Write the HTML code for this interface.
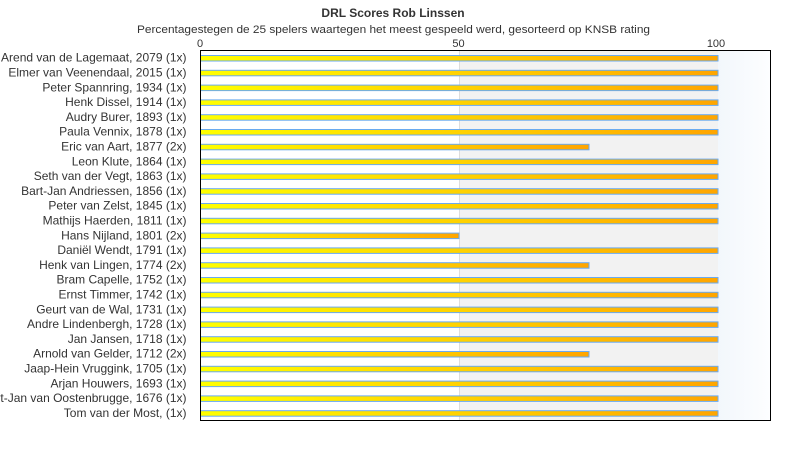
<!DOCTYPE html>
<html>
<head>
<meta charset="utf-8">
<style>
html,body{margin:0;padding:0;background:#fff;}
svg{display:block;}
text{font-family:"Liberation Sans",Arial,sans-serif;fill:#333;}
</style>
</head>
<body>
<svg width="790" height="450" viewBox="0 0 790 450" xmlns="http://www.w3.org/2000/svg">
<defs>
<linearGradient id="bar" x1="0" y1="0" x2="1" y2="0">
<stop offset="0" stop-color="#ffff00"/>
<stop offset="1" stop-color="#ffa500"/>
</linearGradient>
<linearGradient id="right" x1="0" y1="0" x2="1" y2="0">
<stop offset="0" stop-color="#f2f7fc"/>
<stop offset="1" stop-color="#fdfeff"/>
</linearGradient>
</defs>
<text x="393" y="17" text-anchor="middle" font-size="12" font-weight="bold" fill="#333">DRL Scores Rob Linssen</text>
<text x="393.5" y="33" text-anchor="middle" font-size="11" textLength="513" lengthAdjust="spacingAndGlyphs">Percentagestegen de 25 spelers waartegen het meest gespeeld werd, gesorteerd op KNSB rating</text>
<text x="200" y="47" text-anchor="middle" font-size="11">0</text>
<text x="458.5" y="47" text-anchor="middle" font-size="11">50</text>
<text x="716" y="47" text-anchor="middle" font-size="11">100</text>
<rect x="200" y="50" width="259" height="370" fill="#ffffff"/>
<rect x="459" y="50" width="259" height="370" fill="#f2f2f2"/>
<rect x="718" y="50" width="52" height="370" fill="url(#right)"/>
<line x1="459.5" y1="50" x2="459.5" y2="420" stroke="#dddddd" stroke-width="1"/>
<g font-size="12" text-anchor="end">
<text x="186.5" y="61.7">Arend van de Lagemaat, 2079 (1x)</text>
<text x="186.5" y="76.5">Elmer van Veenendaal, 2015 (1x)</text>
<text x="186.5" y="91.3">Peter Spannring, 1934 (1x)</text>
<text x="186.5" y="106.1">Henk Dissel, 1914 (1x)</text>
<text x="186.5" y="120.9">Audry Burer, 1893 (1x)</text>
<text x="186.5" y="135.7">Paula Vennix, 1878 (1x)</text>
<text x="186.5" y="150.5">Eric van Aart, 1877 (2x)</text>
<text x="186.5" y="165.3">Leon Klute, 1864 (1x)</text>
<text x="186.5" y="180.1">Seth van der Vegt, 1863 (1x)</text>
<text x="186.5" y="194.9">Bart-Jan Andriessen, 1856 (1x)</text>
<text x="186.5" y="209.7">Peter van Zelst, 1845 (1x)</text>
<text x="186.5" y="224.5">Mathijs Haerden, 1811 (1x)</text>
<text x="186.5" y="239.3">Hans Nijland, 1801 (2x)</text>
<text x="186.5" y="254.1">Daniël Wendt, 1791 (1x)</text>
<text x="186.5" y="268.9">Henk van Lingen, 1774 (2x)</text>
<text x="186.5" y="283.7">Bram Capelle, 1752 (1x)</text>
<text x="186.5" y="298.5">Ernst Timmer, 1742 (1x)</text>
<text x="186.5" y="313.3">Geurt van de Wal, 1731 (1x)</text>
<text x="186.5" y="328.1">Andre Lindenbergh, 1728 (1x)</text>
<text x="186.5" y="342.9">Jan Jansen, 1718 (1x)</text>
<text x="186.5" y="357.7">Arnold van Gelder, 1712 (2x)</text>
<text x="186.5" y="372.5">Jaap-Hein Vruggink, 1705 (1x)</text>
<text x="186.5" y="387.3">Arjan Houwers, 1693 (1x)</text>
<text x="186.5" y="402.1">Gert-Jan van Oostenbrugge, 1676 (1x)</text>
<text x="186.5" y="416.9">Tom van der Most,  (1x)</text>
</g>
<g fill="url(#bar)" stroke="#6aaaf0" stroke-width="1">
<rect x="200.5" y="55.5" width="517.5" height="5.5"/>
<rect x="200.5" y="70.3" width="517.5" height="5.5"/>
<rect x="200.5" y="85.1" width="517.5" height="5.5"/>
<rect x="200.5" y="99.9" width="517.5" height="5.5"/>
<rect x="200.5" y="114.7" width="517.5" height="5.5"/>
<rect x="200.5" y="129.5" width="517.5" height="5.5"/>
<rect x="200.5" y="144.3" width="388.5" height="5.5"/>
<rect x="200.5" y="159.1" width="517.5" height="5.5"/>
<rect x="200.5" y="173.9" width="517.5" height="5.5"/>
<rect x="200.5" y="188.7" width="517.5" height="5.5"/>
<rect x="200.5" y="203.5" width="517.5" height="5.5"/>
<rect x="200.5" y="218.3" width="517.5" height="5.5"/>
<rect x="200.5" y="233.1" width="258.5" height="5.5"/>
<rect x="200.5" y="247.9" width="517.5" height="5.5"/>
<rect x="200.5" y="262.7" width="388.5" height="5.5"/>
<rect x="200.5" y="277.5" width="517.5" height="5.5"/>
<rect x="200.5" y="292.3" width="517.5" height="5.5"/>
<rect x="200.5" y="307.1" width="517.5" height="5.5"/>
<rect x="200.5" y="321.9" width="517.5" height="5.5"/>
<rect x="200.5" y="336.7" width="517.5" height="5.5"/>
<rect x="200.5" y="351.5" width="388.5" height="5.5"/>
<rect x="200.5" y="366.3" width="517.5" height="5.5"/>
<rect x="200.5" y="381.1" width="517.5" height="5.5"/>
<rect x="200.5" y="395.9" width="517.5" height="5.5"/>
<rect x="200.5" y="410.7" width="517.5" height="5.5"/>
</g>
<rect x="200.5" y="50.5" width="570" height="370" fill="none" stroke="#000" stroke-width="1"/>
</svg>
</body>
</html>
